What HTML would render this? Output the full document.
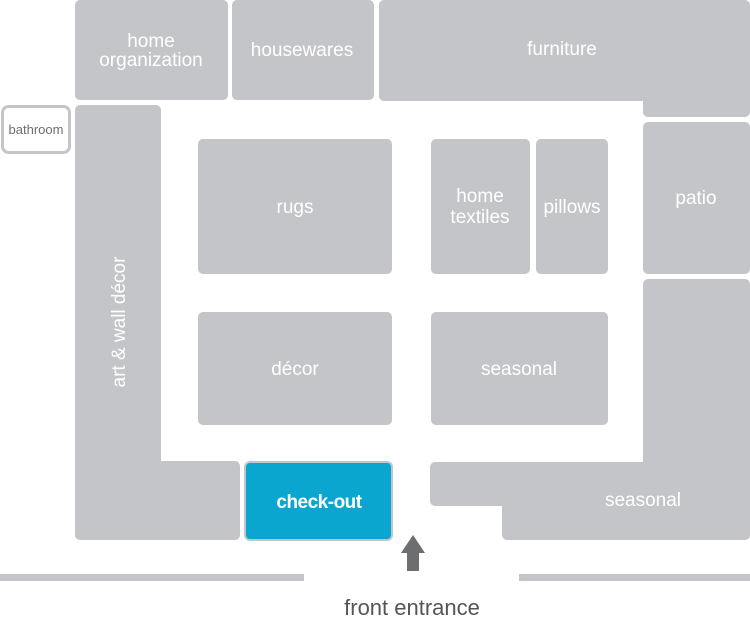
<!DOCTYPE html>
<html><head><style>
html,body{margin:0;padding:0;background:#fff;}
svg{display:block;}
text{font-family:"Liberation Sans",sans-serif;fill:#fff;}
</style></head><body>
<svg width="750" height="624" viewBox="0 0 750 624" xmlns="http://www.w3.org/2000/svg">
<g fill="#c4c5c8">
<rect x="75" y="0" width="153" height="100" rx="5"/>
<rect x="232" y="0" width="142" height="100" rx="5"/>
<rect x="379" y="0" width="371" height="101" rx="5"/>
<rect x="643" y="60" width="107" height="57" rx="5"/>
<rect x="643" y="122" width="107" height="152" rx="5"/>
<rect x="75" y="105" width="86" height="435" rx="5"/>
<rect x="75" y="461" width="165" height="79" rx="5"/>
<rect x="198" y="139" width="194" height="135" rx="5"/>
<rect x="431" y="139" width="99" height="135" rx="5"/>
<rect x="536" y="139" width="72" height="135" rx="5"/>
<rect x="198" y="312" width="194" height="113" rx="5"/>
<rect x="431" y="312" width="177" height="113" rx="5"/>
<rect x="643" y="279" width="107" height="261" rx="5"/>
<rect x="430" y="462" width="320" height="44" rx="5"/>
<rect x="502" y="470" width="248" height="70" rx="5"/>
<rect x="0" y="574" width="304" height="7"/>
<rect x="519" y="574" width="231" height="7"/>
</g>
<rect x="2.5" y="106.5" width="67" height="46" rx="6" fill="#fff" stroke="#c4c5c8" stroke-width="3"/>
<rect x="245" y="462" width="147" height="78" rx="5" fill="#0aa6cf" stroke="#c4c5c8" stroke-width="2"/>
<polygon points="413,535 425,553 419,553 419,571 407,571 407,553 401,553" fill="#6d6e70"/>
<g font-size="19" text-anchor="middle">
<text x="151" y="47">home</text>
<text x="151" y="66">organization</text>
<text x="302" y="56">housewares</text>
<text x="562" y="55">furniture</text>
<text x="696" y="204">patio</text>
<text x="295" y="213">rugs</text>
<text x="480" y="202">home</text>
<text x="480" y="223">textiles</text>
<text x="572" y="213">pillows</text>
<text x="295" y="375">décor</text>
<text x="519" y="375">seasonal</text>
<text x="643" y="506">seasonal</text>
<text x="125" y="322" transform="rotate(-90 125 322)">art &amp; wall décor</text>
<text x="319" y="508" font-weight="bold" style="letter-spacing:-0.5px">check-out</text>
<text x="36" y="134" font-size="13" style="fill:#6d6e70">bathroom</text>
<text x="412" y="615" font-size="22" style="fill:#555">front entrance</text>
</g>
</svg>
</body></html>
